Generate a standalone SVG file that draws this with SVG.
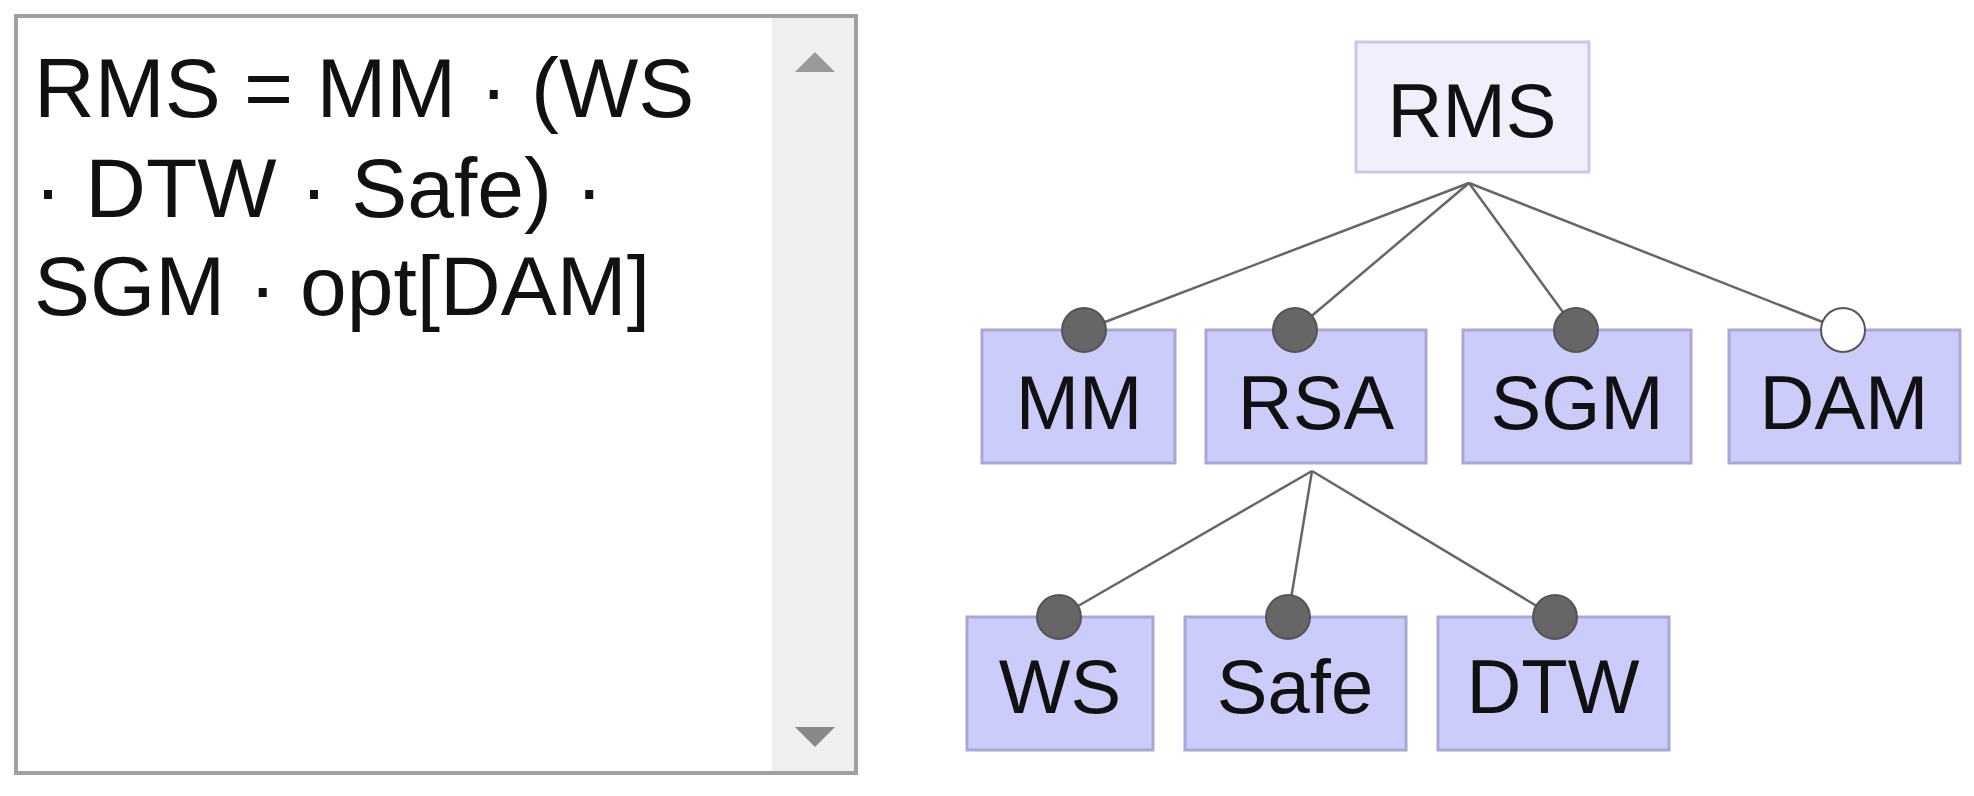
<svg xmlns="http://www.w3.org/2000/svg" width="1974" height="796" viewBox="0 0 1974 796">
<style>
.t{font-family:"Liberation Sans",Arial,sans-serif;fill:#111}
.n{font-size:76px;text-anchor:middle}
.box{fill:#ccccfa;stroke:#a8a8d8;stroke-width:3}
.c{stroke:#666;stroke-width:2.5;fill:none}
.m{fill:#666;stroke:#555;stroke-width:2}
.o{fill:#fff;stroke:#555;stroke-width:2}
</style>
<rect width="1974" height="796" fill="#fff"/>
<g id="editor">
<rect x="16" y="16" width="840" height="757" fill="#fff" stroke="#a0a0a0" stroke-width="4"/>
<rect x="772" y="18" width="82" height="753" fill="#efefef"/>
<polygon points="815,52 795,72 835,72" fill="#999"/>
<polygon points="815,747 795,727 835,727" fill="#888"/>
<text class="t" font-size="84" x="34" y="117">RMS = MM · (WS</text>
<text class="t" font-size="84" x="34" y="217">· DTW · Safe) ·</text>
<text class="t" font-size="84" x="34" y="315">SGM · opt[DAM]</text>
</g>
<g id="connectors">
<line class="c" x1="1469" y1="183" x2="1084" y2="330"/>
<line class="c" x1="1469" y1="183" x2="1295" y2="330"/>
<line class="c" x1="1469" y1="183" x2="1576" y2="330"/>
<line class="c" x1="1469" y1="183" x2="1843" y2="330"/>
<line class="c" x1="1312" y1="471" x2="1059" y2="617"/>
<line class="c" x1="1312" y1="471" x2="1288" y2="617"/>
<line class="c" x1="1312" y1="471" x2="1555" y2="617"/>
</g>
<g id="RMS"><rect x="1356" y="42" width="233" height="130" fill="#f0f0fc" stroke="#c8c8ee" stroke-width="3"/><text class="t n" x="1472" y="137">RMS</text></g>
<g id="MM"><rect class="box" x="982" y="330" width="193" height="133"/><text class="t n" x="1079" y="429">MM</text></g>
<g id="RSA"><rect class="box" x="1206" y="330" width="220" height="133"/><text class="t n" x="1316" y="429">RSA</text></g>
<g id="SGM"><rect class="box" x="1463" y="330" width="228" height="133"/><text class="t n" x="1577" y="429">SGM</text></g>
<g id="DAM"><rect class="box" x="1729" y="330" width="231" height="133"/><text class="t n" x="1844" y="429">DAM</text></g>
<g id="WS"><rect class="box" x="967" y="617" width="186" height="133"/><text class="t n" x="1060" y="713">WS</text></g>
<g id="Safe"><rect class="box" x="1185" y="617" width="221" height="133"/><text class="t n" x="1295" y="713">Safe</text></g>
<g id="DTW"><rect class="box" x="1438" y="617" width="231" height="133"/><text class="t n" x="1553" y="713">DTW</text></g>
<g id="markers">
<circle class="m" cx="1084" cy="330" r="22"/>
<circle class="m" cx="1295" cy="330" r="22"/>
<circle class="m" cx="1576" cy="330" r="22"/>
<circle class="o" cx="1843" cy="330" r="22"/>
<circle class="m" cx="1059" cy="617" r="22"/>
<circle class="m" cx="1288" cy="617" r="22"/>
<circle class="m" cx="1555" cy="617" r="22"/>
</g>
</svg>
